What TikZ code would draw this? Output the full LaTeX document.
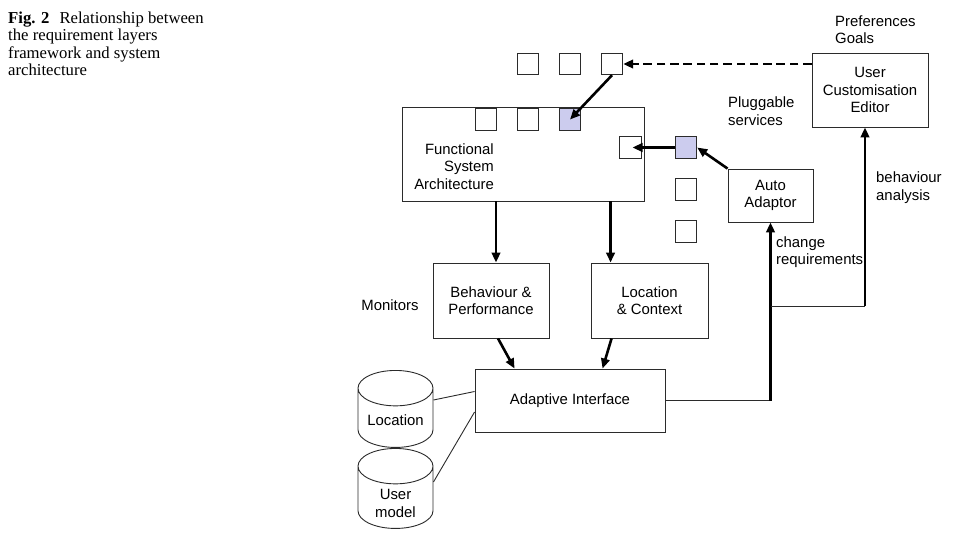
\documentclass[tikz,border=0pt]{standalone}
\usepackage{fontspec}
\setmainfont{Liberation Serif}
\newfontfamily\diagsans{Liberation Sans}
\usepackage{tikz}
\usetikzlibrary{arrows.meta,positioning,shapes.geometric}
\usepackage{xcolor}
\definecolor{PlugLilac}{HTML}{CCCCEE}
\definecolor{LineGrey}{HTML}{2B2B2B}
\newcommand{\diagfont}{\diagsans\fontsize{14.9}{17.5}\selectfont}

\begin{document}
\begin{tikzpicture}[x=1pt,y=-1pt,
  lbl/.style={font=\diagfont,align=left,inner sep=0pt},
  box/.style={draw=LineGrey,line width=0.9pt,fill=white,align=center,inner sep=0pt,font=\diagfont},
  sq/.style={draw=LineGrey,line width=0.9pt,fill=white,minimum size=21.5pt,inner sep=0pt},
  sqon/.style={sq,fill=PlugLilac},
  store/.style={cylinder,shape border rotate=90,draw=LineGrey,line width=0.9pt,fill=white,aspect=0.59,minimum width=75pt,text width=60pt,inner sep=0pt,anchor=north},
  arr/.style={-{Triangle[length=10pt,width=8.5pt]},line width=2.6pt},
  link/.style={line width=0.9pt,LineGrey}]
\useasboundingbox (0,0) rectangle (956,546);
% caption
\node[anchor=north west,inner sep=0pt,align=left,font=\fontsize{16.7}{17.5}\selectfont] (cap) at (8,11.5)
  {\textbf{Fig. 2}\hspace{0.6em}Relationship between\\the requirement layers\\framework and system\\architecture};
% services and editor
\node[sq] (sq1) at (528,64) {};
\node[sq] (sq2) at (570,64) {};
\node[sq] (sq3) at (612,64) {};
\node[box,minimum width=116pt,minimum height=74pt] (uce) at (870,90) {User\\Customisation\\Editor};
\node[lbl,anchor=west] (prefs) at (835,29.5) {Preferences\\Goals};
\node[lbl,anchor=west] (plug) at (728,111) {Pluggable\\services};
% functional system architecture
\node[box,minimum width=242pt,minimum height=94pt] (fsa) at (523,154) {};
\node[lbl,align=right,anchor=east] (fsatext) at (494,166.5) {Functional\\System\\Architecture};
\node[sq] (in1) at (486,119.5) {};
\node[sq] (in2) at (528,119.5) {};
\node[sqon] (in3) at (570,119.5) {};
\node[sq] (in4) at (630.5,147.5) {};
\node[sqon] (out1) at (686,147.5) {};
\node[sq] (out2) at (686,189.5) {};
\node[sq] (out3) at (686,231.5) {};
\node[box,minimum width=85pt,minimum height=53pt] (aa) at (770.5,195.5) {Auto\\Adaptor};
% monitors
\node[box,minimum width=116pt,minimum height=75pt] (bp) at (491,300.5) {Behaviour \&\\Performance};
\node[box,minimum width=117pt,minimum height=75pt] (lc) at (649.5,300.5) {Location\\\& Context};
\node[lbl] (mon) at (390,305) {Monitors};
\node[box,minimum width=190pt,minimum height=63pt] (ai) at (570,400.5) {Adaptive Interface};
\node[store,minimum height=77pt,label={[lbl,anchor=center,yshift=28pt]south:Location}] (loc) at (395.5,370) {};
\node[store,minimum height=80pt,label={[lbl,align=center,anchor=center,yshift=25.5pt]south:User\\model}] (um) at (395.5,448) {};
\node[lbl,anchor=west] (chg) at (776,252) {change\\requirements};
\node[lbl,anchor=west] (beh) at (876,187.5) {behaviour\\analysis};
\coordinate (tap) at (770.5,306);
\coordinate (ucein) at ([xshift=-5pt]uce.south);
% connectors
\draw[arr,dashed,dash pattern=on 8.5pt off 4.8pt] (uce.west |- sq3.east) -- (sq3.east);
\draw[arr] (sq3.south) -- (in3.center);
\draw[arr] (out1.west) -- ([xshift=2pt]in4.center);
\draw[arr] (aa.north west) -- (out1.east);
\draw[arr] ([xshift=5pt]bp.north |- fsa.south) -- ([xshift=5pt]bp.north);
\draw[arr] ([xshift=20pt]lc.north west |- fsa.south) -- ([xshift=20pt]lc.north west);
\draw[arr] ([xshift=7pt]bp.south) -- ([xshift=40pt]ai.north west);
\draw[arr] ([xshift=21pt]lc.south west) -- ([xshift=128pt]ai.north west);
\draw[link] (loc.east |- 0,400) -- ([yshift=9pt]ai.west);
\draw[link] (um.east |- 0,482) -- ([yshift=-11.5pt]ai.west);
\draw[link] (ai.east) -- (ai.east -| aa.south);
\draw[arr] (ai.east -| aa.south) -- (aa.south);
\draw[link] (tap) -- (tap -| ucein);
\draw[arr] (tap -| ucein) -- (ucein);
\end{tikzpicture}
\end{document}
